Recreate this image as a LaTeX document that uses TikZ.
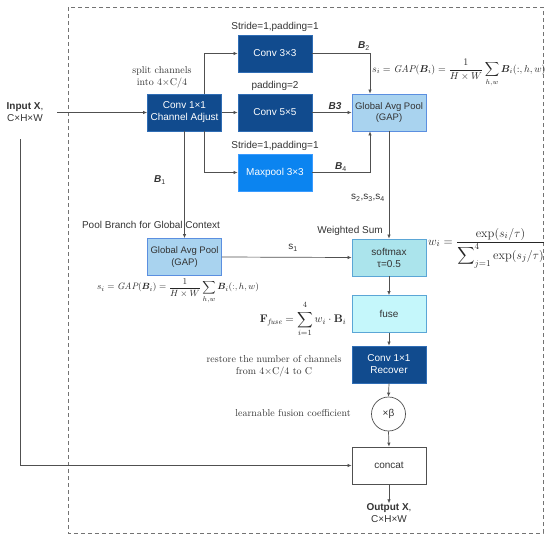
\documentclass[tikz,border=0pt]{standalone}
\usepackage{amsmath,bm}
\usepackage{fontspec}
\setmainfont{Latin Modern Roman}
\setsansfont{Liberation Sans}
\usetikzlibrary{arrows.meta,calc}
\definecolor{dk}{HTML}{114B8E}
\definecolor{dkb}{HTML}{2F6DB5}
\definecolor{mpc}{HTML}{0B84F0}
\definecolor{mpb}{HTML}{3A9BFF}
\definecolor{gapc}{HTML}{A9D3EF}
\definecolor{gapb}{HTML}{5B8FE0}
\definecolor{sfc}{HTML}{ABE4EC}
\definecolor{fuc}{HTML}{C5F7FB}
\definecolor{cyb}{HTML}{5BA6D6}
\definecolor{ln}{HTML}{505050}
\tikzset{
  box/.style={minimum width=74pt,minimum height=37pt,inner sep=0pt,align=center,
    font=\sffamily\fontsize{10}{12}\selectfont,line width=0.8pt},
  darkbox/.style={box,fill=dk,draw=dkb,text=white},
  mpbox/.style={box,fill=mpc,draw=mpb,text=white},
  gapbox/.style={box,fill=gapc,draw=gapb,text=black!80,font=\sffamily\fontsize{9.5}{11.5}\selectfont},
  sfbox/.style={box,fill=sfc,draw=cyb,text=black!80},
  fubox/.style={box,fill=fuc,draw=cyb,text=black!80},
  whbox/.style={box,fill=white,draw=ln,text=black!80},
  lbl/.style={font=\sffamily\fontsize{10}{12}\selectfont,text=black!80,inner sep=0pt,align=center},
  slbl/.style={font=\rmfamily\fontsize{10}{12}\selectfont,text=black!80,inner sep=0pt,align=center},
  mlbl/.style={font=\rmfamily\fontsize{10}{12}\selectfont,text=black!85,inner sep=0pt},
  arr/.style={draw=ln,line width=0.7pt,-{Latex[length=4pt,width=3.5pt]}},
}
\begin{document}
\begin{tikzpicture}[x=1pt,y=-1pt]
\useasboundingbox (0,0) rectangle (550,541);
\draw[draw=ln!80,line width=0.7pt,dash pattern=on 4pt off 3pt] (68,7) rectangle (543,533);

% nodes
\node[darkbox] (cadj) at (184.5,112.5) {Conv 1×1\\Channel Adjust};
\node[darkbox] (c3) at (275,53.5) {Conv 3×3};
\node[darkbox] (c5) at (275,112.5) {Conv 5×5};
\node[mpbox] (mp) at (275,172.5) {Maxpool 3×3};
\node[gapbox] (gap) at (389,112.5) {Global Avg Pool\\(GAP)};
\node[gapbox] (pgap) at (184.5,257) {Global Avg Pool\\(GAP)};
\node[sfbox] (soft) at (389,257.5) {softmax\\τ=0.5};
\node[fubox] (fuse) at (389,314) {fuse};
\node[darkbox] (rec) at (389,364.5) {Conv 1×1\\Recover};
\node[circle,draw=ln,line width=0.7pt,minimum size=34pt,inner sep=0pt,font=\sffamily\fontsize{10}{12}\selectfont,text=black!80] (beta) at (388.5,414) {×β};
\node[whbox] (concat) at (389,465.5) {concat};
\node[lbl] (in) at (25,112.5) {\textbf{Input X},\\C×H×W};
\node[lbl] (out) at (389,513) {\textbf{Output X},\\C×H×W};

\coordinate (inR) at (57,112.5);
\coordinate (inB) at (20,139);

% labels
\node[lbl] (l1) at (275,27) {Stride=1,padding=1};
\node[lbl] (l2) at (275,86) {padding=2};
\node[lbl] (l3) at (275,145.5) {Stride=1,padding=1};
\node[lbl] (b2) at (364,46) {\textbf{\textit{B}}\textsubscript{2}};
\node[lbl] (b3) at (335,106) {\textbf{\textit{B3}}};
\node[lbl] (b4) at (341,167) {\textbf{\textit{B}}\textsubscript{4}};
\node[lbl] (b1) at (160,180) {\textbf{\textit{B}}\textsubscript{1}};
\node[slbl] (split) at (162,77) {split channels\\into 4×C/4};
\node[lbl] (pb) at (151,225) {Pool Branch for Global Context};
\node[lbl] (sss) at (368,198) {s\textsubscript{2},s\textsubscript{3},s\textsubscript{4}};
\node[lbl] (ws) at (350,231) {Weighted Sum};
\node[lbl] (s1) at (293,248) {s\textsubscript{1}};
\node[slbl] (rest) at (274,366) {restore the number of channels\\from 4×C/4 to C};
\node[slbl] (learn) at (293,413) {learnable fusion coefficient};

\node[mlbl,anchor=west] (f1) at (372,73) {$\displaystyle s_i = \mathit{GAP}(\bm{B}_i) = \frac{1}{H\times W}\sum_{h,w}\bm{B}_i(:,h,w)$};
\node[mlbl,font=\rmfamily\fontsize{9.3}{11}\selectfont] (f2) at (178,291) {$\displaystyle s_i = \mathit{GAP}(\bm{B}_i) = \frac{1}{H\times W}\sum_{h,w}\bm{B}_i(:,h,w)$};
\node[mlbl,anchor=west,font=\rmfamily\fontsize{12.5}{14}\selectfont] (f3) at (428,248) {$w_i = \dfrac{\exp(s_i/\tau)}{\displaystyle\sum\nolimits_{j=1}^{4}\exp(s_j/\tau)}$};
\node[mlbl,font=\rmfamily\fontsize{11}{13}\selectfont] (f4) at (303,319) {$\displaystyle\mathbf{F}_{\mathit{fuse}} = \sum_{i=1}^{\raisebox{2pt}{$\scriptstyle 4$}} w_i\cdot\mathbf{B}_i$};

% connectors
\draw[arr] (inR) -- (cadj.west);
\draw[arr] (inB) |- (concat.west);
\draw[arr] ($(cadj.north east)+(-18,0)$) |- (c3.west);
\draw[arr] (cadj.east) -- (c5.west);
\draw[arr] ($(cadj.south east)+(-18,0)$) |- (mp.west);
\draw[arr] (c3.east) -| ($(gap.north)+(-19,0)$);
\draw[arr] (c5.east) -- (gap.west);
\draw[arr] (mp.east) -| ($(gap.south)+(-19,0)$);
\draw[arr] (gap.south) -- (soft.north);
\draw[arr] (cadj.south) -- (pgap.north);
\draw[arr] (pgap.east) -- (soft.west);
\draw[arr] (soft.south) -- (fuse.north);
\draw[arr] (fuse.south) -- (rec.north);
\draw[arr] (rec.south) -- (beta.north);
\draw[arr] (beta.south) -- (concat.north);
\draw[arr] (concat.south) -- (out.north);
\end{tikzpicture}
\end{document}
